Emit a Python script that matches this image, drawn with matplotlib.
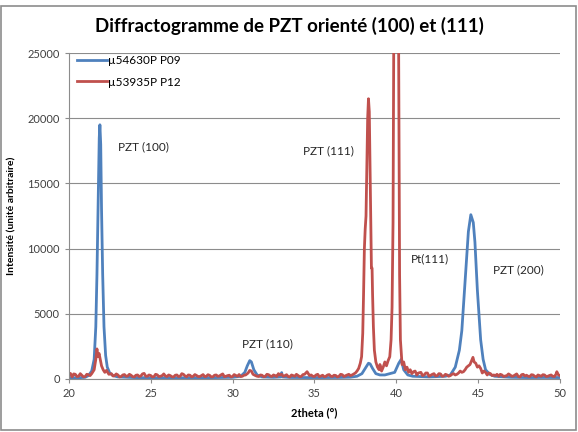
import matplotlib
matplotlib.use("Agg")
import matplotlib.pyplot as plt
from matplotlib.patches import Rectangle

plt.rcParams['font.family'] = ['Lato', 'DejaVu Sans']

# µ54630P P09 (blue): (2theta, intensity)
blue_pts = [(20.0, 100), (20.5, 80), (21.0, 120), (21.2, 250), (21.4, 600), (21.55, 1500),
            (21.65, 4000), (21.72, 8000), (21.8, 14000), (21.86, 18500), (21.9, 19500),
            (21.95, 18000), (22.0, 13000), (22.07, 8000), (22.15, 4000), (22.25, 1800),
            (22.35, 900), (22.5, 450), (22.7, 250), (23.0, 150), (24.0, 100), (25.0, 80),
            (26.0, 90), (27.0, 80), (28.0, 90), (29.0, 100), (30.0, 120), (30.5, 200),
            (30.75, 500), (30.9, 1000), (31.05, 1400), (31.15, 1300), (31.3, 700),
            (31.5, 300), (31.8, 150), (32.5, 120), (32.95, 150), (33.0, 480), (33.05, 150),
            (33.5, 110), (34.5, 100), (35.5, 100), (36.5, 110), (37.2, 130), (37.6, 200),
            (37.9, 400), (38.1, 800), (38.3, 1200), (38.4, 1150), (38.55, 800), (38.75, 400),
            (39.0, 300), (39.3, 300), (39.6, 400), (39.9, 500), (40.15, 1200),
            (40.3, 1500), (40.45, 700), (40.7, 300), (41.0, 200), (42.0, 150),
            (43.0, 200), (43.3, 300), (43.6, 900), (43.85, 2200), (44.0, 3700),
            (44.2, 7500), (44.4, 11300), (44.55, 12600), (44.7, 12000), (44.8, 10500),
            (44.95, 6800), (45.15, 3000), (45.3, 1500), (45.45, 700), (45.7, 350),
            (46.0, 200), (47.0, 120), (48.0, 100), (49.0, 110), (50.0, 100)]

# µ53935P P12 (red): (2theta, intensity)
red_pts = [(20.0, 300), (20.1, 420), (20.2, 150), (20.3, 380), (20.4, 350), (20.5, 180),
           (20.6, 200), (20.7, 400), (20.8, 280), (20.9, 150), (21.0, 180), (21.1, 350),
           (21.2, 320), (21.3, 250), (21.4, 400), (21.55, 700), (21.65, 1500), (21.72, 2300),
           (21.78, 1700), (21.85, 1950), (21.92, 1500), (22.0, 1000), (22.1, 700),
           (22.2, 500), (22.3, 650), (22.45, 350), (22.6, 400), (22.7, 220), (22.8, 250),
           (22.9, 380), (23.0, 300), (23.1, 150), (23.2, 180), (23.3, 300), (23.4, 330),
           (23.5, 200), (23.6, 220), (23.7, 350), (23.8, 280), (23.9, 170), (24.0, 150),
           (24.1, 280), (24.2, 300), (24.3, 180), (24.4, 220), (24.5, 380), (24.6, 420),
           (24.7, 200), (24.8, 200), (24.9, 300), (25.0, 260), (25.1, 150), (25.2, 170),
           (25.3, 350), (25.4, 310), (25.5, 180), (25.6, 200), (25.7, 250), (25.8, 380),
           (25.9, 220), (26.0, 180), (26.1, 300), (26.2, 250), (26.3, 160), (26.4, 150),
           (26.5, 280), (26.6, 300), (26.7, 180), (26.8, 200), (26.9, 400), (27.0, 350),
           (27.1, 220), (27.2, 170), (27.3, 300), (27.4, 280), (27.5, 150), (27.6, 200),
           (27.7, 330), (27.8, 260), (27.9, 180), (28.0, 180), (28.1, 250), (28.2, 330),
           (28.3, 170), (28.4, 200), (28.5, 320), (28.6, 270), (28.7, 150), (28.8, 160),
           (28.9, 280), (29.0, 300), (29.1, 200), (29.2, 220), (29.3, 310), (29.4, 380),
           (29.5, 170), (29.6, 200), (29.7, 250), (29.8, 280), (29.9, 150), (30.0, 180),
           (30.1, 330), (30.2, 260), (30.3, 200), (30.4, 330), (30.5, 180), (30.6, 200),
           (30.7, 280), (30.8, 300), (30.95, 450), (31.05, 650), (31.15, 600),
           (31.25, 350), (31.4, 250), (31.5, 200), (31.6, 180), (31.7, 300), (31.8, 280),
           (31.9, 160), (32.0, 200), (32.1, 350), (32.2, 320), (32.3, 220), (32.4, 180),
           (32.5, 300), (32.6, 250), (32.7, 180), (32.8, 400), (32.9, 300), (33.0, 350),
           (33.1, 200), (33.2, 250), (33.3, 320), (33.4, 180), (33.5, 150), (33.6, 300),
           (33.7, 250), (33.8, 200), (33.9, 350), (34.0, 260), (34.1, 170), (34.2, 190),
           (34.3, 330), (34.4, 350), (34.55, 550), (34.7, 250), (34.8, 300), (34.9, 200),
           (35.0, 180), (35.1, 300), (35.2, 350), (35.3, 170), (35.4, 220), (35.5, 280),
           (35.6, 160), (35.7, 200), (35.8, 300), (35.9, 330), (36.0, 200), (36.1, 180),
           (36.2, 280), (36.3, 260), (36.4, 150), (36.5, 200), (36.6, 350), (36.7, 320),
           (36.8, 180), (36.9, 240), (37.0, 300), (37.1, 350), (37.2, 250), (37.3, 300),
           (37.4, 380), (37.5, 450), (37.6, 600), (37.7, 800), (37.8, 1200), (37.88, 1700),
           (37.95, 3500), (38.0, 6500), (38.05, 10000), (38.1, 11500), (38.15, 12500),
           (38.2, 16500), (38.25, 20000), (38.3, 21500), (38.35, 20500), (38.4, 16000),
           (38.45, 11500), (38.48, 8500), (38.52, 8500), (38.55, 6500), (38.6, 4000),
           (38.66, 2200), (38.75, 1300), (38.85, 900), (38.95, 700), (39.0, 1100),
           (39.1, 600), (39.2, 900), (39.3, 1300), (39.4, 1000), (39.5, 1400), (39.6, 1700),
           (39.68, 3000), (39.74, 5500), (39.8, 12000), (39.84, 26000), (39.9, 40000),
           (40.0, 50000), (40.08, 40000), (40.14, 26000), (40.2, 8000), (40.25, 3000),
           (40.3, 2000), (40.35, 1100), (40.45, 1300), (40.55, 700), (40.65, 900),
           (40.75, 500), (40.85, 700), (40.95, 400), (41.05, 550), (41.15, 600),
           (41.25, 300), (41.35, 450), (41.5, 500), (41.6, 250), (41.7, 300), (41.8, 450),
           (41.9, 450), (42.0, 200), (42.1, 280), (42.2, 350), (42.3, 400), (42.4, 220),
           (42.5, 250), (42.6, 400), (42.7, 380), (42.8, 200), (42.9, 220), (43.0, 350),
           (43.1, 300), (43.2, 200), (43.3, 250), (43.4, 350), (43.5, 400), (43.6, 300),
           (43.7, 350), (43.8, 450), (43.9, 600), (44.0, 500), (44.1, 550), (44.2, 700),
           (44.3, 900), (44.4, 1000), (44.5, 1100), (44.6, 1400), (44.68, 1650),
           (44.75, 1300), (44.85, 1200), (44.95, 900), (45.05, 1000), (45.15, 800),
           (45.25, 450), (45.35, 600), (45.45, 500), (45.55, 300), (45.65, 450),
           (45.75, 400), (45.85, 250), (45.95, 300), (46.05, 250), (46.15, 350),
           (46.25, 200), (46.35, 350), (46.45, 300), (46.55, 180), (46.65, 220),
           (46.75, 250), (46.85, 380), (46.95, 300), (47.05, 200), (47.15, 220),
           (47.25, 300), (47.35, 380), (47.45, 180), (47.55, 150), (47.65, 320),
           (47.75, 350), (47.85, 220), (47.95, 280), (48.05, 200), (48.15, 180),
           (48.25, 320), (48.35, 300), (48.45, 200), (48.55, 150), (48.65, 300),
           (48.75, 250), (48.85, 200), (48.95, 320), (49.05, 300), (49.15, 180),
           (49.25, 200), (49.35, 260), (49.45, 300), (49.55, 200), (49.65, 180),
           (49.75, 350), (49.8, 550), (49.9, 300), (50.0, 250)]

labels = ["µ54630P P09", "µ53935P P12"]
blue_x, blue_y = zip(*blue_pts)
red_x, red_y = zip(*red_pts)
blue_c = "#4F81BD"
red_c = "#C0504D"

fig = plt.figure(figsize=(5.78, 4.32), dpi=100)
ax = fig.add_axes([0.119, 0.123, 0.850, 0.754])

ax.plot(blue_x, blue_y, color=blue_c, lw=2.0, label=labels[0])
ax.plot(red_x, red_y, color=red_c, lw=2.0, label=labels[1])

ax.set_xlim(20, 50)
ax.set_ylim(0, 25000)
ax.set_xticks([20, 25, 30, 35, 40, 45, 50])
ax.set_yticks([0, 5000, 10000, 15000, 20000, 25000])
ax.yaxis.grid(True, color="#8c8c8c", lw=0.8)
ax.set_axisbelow(True)
for s in ["top", "right"]:
    ax.spines[s].set_visible(False)
ax.spines["left"].set_color("#8c8c8c")
ax.spines["bottom"].set_color("#8c8c8c")
ax.tick_params(axis="both", colors="#8c8c8c", length=3, width=0.8, labelsize=8,
               labelcolor="#404040")

ax.set_xlabel("2theta (°)", fontsize=8, fontweight="bold", labelpad=6)
ax.set_ylabel("Intensité (unité arbitraire)", fontsize=7.5, fontweight="bold", labelpad=8)
fig.suptitle("Diffractogramme de PZT orienté (100) et (111)", x=0.5, y=0.962,
             fontsize=13.5, fontweight="bold")

ax.legend(loc="upper left", bbox_to_anchor=(0.0, 1.02), frameon=False, fontsize=8.5,
          handlelength=2.5, handletextpad=0.1, labelspacing=0.9, borderaxespad=0.3)

notes = [("PZT (100)", 23.0, 17800), ("PZT (110)", 30.6, 2700), ("PZT (111)", 34.3, 17500),
         ("Pt(111)", 40.9, 9200), ("PZT (200)", 45.9, 8350)]
for txt, nx, ny in notes:
    ax.text(nx, ny, txt, fontsize=8.5, color="#262626", va="center")

fig.patches.append(Rectangle((0.002, 0.005), 0.994, 0.981, transform=fig.transFigure,
                             fill=False, edgecolor="#8c8c8c", lw=1.2))

fig.savefig("out.png", dpi=100)
